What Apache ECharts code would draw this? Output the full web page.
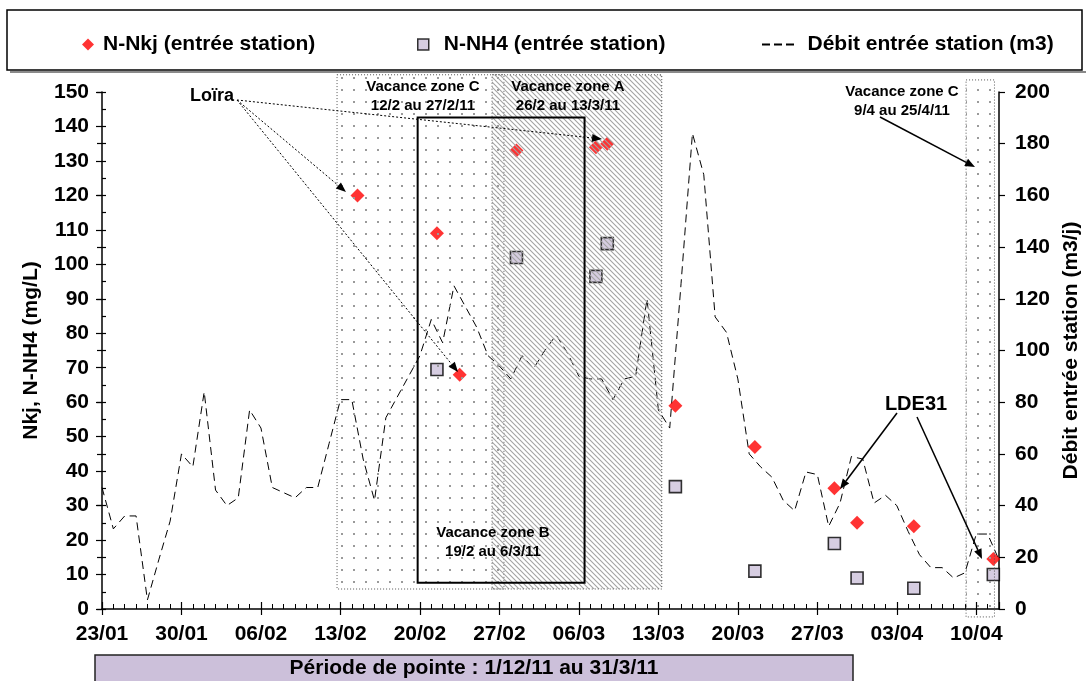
<!DOCTYPE html>
<html><head><meta charset="utf-8">
<script src="https://cdn.jsdelivr.net/npm/echarts@6/dist/echarts.min.js"></script>
<style>html,body{margin:0;padding:0;background:#fff}#c{width:1086px;height:681px}</style>
</head><body><div id="c"></div>
<script>
// ---------- DATA ----------
const startDate = '23/01'; // 2011
const xTickLabels = ['23/01','30/01','06/02','13/02','20/02','27/02','06/03','13/03','20/03','27/03','03/04','10/04'];
// daily inflow (m3/j), one value per day starting 23/01
const flowValues = [47,31,36,36,3.5,19,34,60,55,84,
  46,40,43,77,70,47,45,43,47,47,
  64,81,81,58,42,74,82,90,98,112,
  103,125,117,109,98,94,89,98,93,100,
  106,99,90,89,89,81,89,90,120,77,
  70,126,184,168,113,107,89,60,55,51,
  42,38,53,52,32,41,59,58,41,44,
  40,30,21,16,16,12,14,29,29,19];
const nkjDates  = ['14/02','21/02','23/02','28/02','07/03','08/03','14/03','21/03','28/03','30/03','04/04','11/04'];
const nkjValues = [120,109,68,133,134,135,59,47,35,25,24,14.5];
const nh4Dates  = ['21/02','28/02','07/03','08/03','14/03','21/03','28/03','30/03','04/04','11/04'];
const nh4Values = [69.5,102,96.5,106,35.5,11,19,9,6,10];

// ---------- helpers ----------
function dayIndex(s){
  const [d,m] = s.split('/').map(Number);
  const [d0,m0] = startDate.split('/').map(Number);
  return Math.round((Date.UTC(2011,m-1,d)-Date.UTC(2011,m0-1,d0))/86400000);
}
const SLOT = 0.5; // samples plotted at the centre of their date slot
const FONT = '"Liberation Sans", Arial, sans-serif';
const nkjData = nkjDates.map((d,i)=>[dayIndex(d)+SLOT, nkjValues[i]]);
const nh4Data = nh4Dates.map((d,i)=>[dayIndex(d)+SLOT, nh4Values[i]]);
const flowData = flowValues.map((v,i)=>[i, v]);
const X_MAX = 79;
const FS = 21;

const chart = echarts.init(document.getElementById('c'), null, {renderer:'canvas'});
const boldLbl = {color:'#000', fontWeight:'bold', fontSize:FS, fontFamily:FONT};
const option = {
  animation:false,
  backgroundColor:'#fff',
  grid:{left:102, right:87, top:92, bottom:72, containLabel:false, outerBoundsMode:'none'},
  legend:[
    {data:['N-Nkj (entrée station)'], left:77, top:29, icon:'diamond', itemWidth:12, itemHeight:12,
     textStyle:Object.assign({}, boldLbl, {padding:[0,0,0,4]})},
    {data:['N-NH4 (entrée station)'], left:412, top:29, icon:'rect', itemWidth:11, itemHeight:11,
     itemStyle:{borderColor:'#000', borderWidth:1.5},
     textStyle:Object.assign({}, boldLbl, {padding:[0,0,0,10]})},
    {data:['Débit entrée station (m3)'], left:757, top:29, itemWidth:33, itemHeight:2,
     icon:'path://M0,0H8V2H0Z M12,0H20V2H12Z M24,0H32V2H24Z',
     textStyle:Object.assign({}, boldLbl, {padding:[0,0,0,8]})}
  ],
  xAxis:[
    {type:'value', min:0, max:X_MAX, interval:7, position:'bottom',
     axisLine:{show:true, onZero:false, lineStyle:{color:'#000', width:1.5}},
     axisTick:{show:true, inside:false, length:6, lineStyle:{color:'#000', width:1.2}},
     axisLabel:{show:true, margin:15, showMaxLabel:false, color:'#000', fontWeight:'bold', fontSize:FS, fontFamily:FONT,
       formatter:v=> (v%7===0 && v/7<xTickLabels.length) ? xTickLabels[v/7] : ''},
     splitLine:{show:false}},
    {type:'value', min:0, max:X_MAX, interval:7, position:'bottom',
     axisLine:{show:false, onZero:false}, axisTick:{show:true, inside:true, length:7, lineStyle:{color:'#000', width:1.2}},
     axisLabel:{show:false}, splitLine:{show:false}},
    {type:'value', min:0, max:X_MAX, interval:1, position:'bottom',
     axisLine:{show:false, onZero:false}, axisTick:{show:true, inside:true, length:5, lineStyle:{color:'#000', width:1}},
     axisLabel:{show:false}, splitLine:{show:false}}
  ],
  yAxis:[
    {type:'value', min:0, max:150, interval:10, position:'left',
     name:'Nkj, N-NH4 (mg/L)', nameLocation:'middle', nameRotate:90, nameGap:60,
     nameTextStyle:{color:'#000', fontWeight:'bold', fontSize:FS, fontFamily:FONT},
     axisLine:{show:true, onZero:false, lineStyle:{color:'#000', width:1.5}},
     axisTick:{show:true, inside:false, length:6, lineStyle:{color:'#000', width:1.2}},
     axisLabel:{margin:13, color:'#000', fontWeight:'bold', fontSize:FS, fontFamily:FONT},
     splitLine:{show:false}},
    {type:'value', min:0, max:200, interval:20, position:'right',
     name:'Débit entrée station (m3/j)', nameLocation:'middle', nameRotate:90, nameGap:62,
     nameTextStyle:{color:'#000', fontWeight:'bold', fontSize:FS, fontFamily:FONT},
     axisLine:{show:true, onZero:false, lineStyle:{color:'#000', width:1.5}},
     axisTick:{show:true, inside:false, length:6, lineStyle:{color:'#000', width:1.2}},
     axisLabel:{margin:16, color:'#000', fontWeight:'bold', fontSize:FS, fontFamily:FONT},
     splitLine:{show:false}},
    {type:'value', min:0, max:150, interval:5, position:'left',
     axisLine:{show:false}, axisTick:{show:true, inside:true, length:4, lineStyle:{color:'#000', width:1.2}},
     axisLabel:{show:false}, splitLine:{show:false}},
    {type:'value', min:0, max:200, interval:20, position:'right',
     axisLine:{show:false}, axisTick:{show:true, inside:true, length:5, lineStyle:{color:'#000', width:1.2}},
     axisLabel:{show:false}, splitLine:{show:false}}
  ],
  series:[
    {name:'N-Nkj (entrée station)', type:'scatter', xAxisIndex:0, yAxisIndex:0, data:nkjData,
     symbol:'diamond', symbolSize:14, itemStyle:{color:'#ff0000'}, z:5},
    {name:'N-NH4 (entrée station)', type:'scatter', xAxisIndex:0, yAxisIndex:0, data:nh4Data,
     symbol:'rect', symbolSize:12, itemStyle:{color:'#ccc0da', borderColor:'#000', borderWidth:1.6}, z:5},
    {name:'Débit entrée station (m3)', type:'line', xAxisIndex:0, yAxisIndex:1, data:flowData,
     symbol:'none', showSymbol:false, clip:false,
     lineStyle:{color:'#000', width:1, type:[8,5]}, itemStyle:{color:'#000'}, z:3}
  ]
};
chart.setOption(option);

// ---------- annotations ----------
function mkCanvas(w,h,draw){ const c=document.createElement('canvas'); c.width=w; c.height=h; draw(c.getContext('2d')); return c; }
const dotPattern = mkCanvas(12,12,g=>{ g.fillStyle='#9a9a9a'; g.fillRect(5,5,2,2); });
const hatchPattern = mkCanvas(5,5,g=>{ g.strokeStyle='#a3a3a3'; g.lineWidth=1.1;
  for(const o of [-5,0,5]){ g.beginPath(); g.moveTo(o-1,-1); g.lineTo(o+6,6); g.stroke(); } });
function P(day,val){ return chart.convertToPixel({xAxisIndex:0,yAxisIndex:0},[day,val]); }
function zoneRect(d1,d2,v1,v2,fill,stroke,lw,dash,z){
  const a=P(d1,v1), b=P(d2,v2);
  return {type:'rect', z:z, shape:{x:a[0], y:a[1], width:b[0]-a[0], height:b[1]-a[1]},
          style:{fill:fill, stroke:stroke, lineWidth:lw, lineDash:dash}};
}
function arrow(x1,y1,x2,y2,o){
  o=o||{}; const ang=Math.atan2(y2-y1,x2-x1), L=o.head||10, W=o.hw||4;
  const bx=x2-L*Math.cos(ang), by=y2-L*Math.sin(ang), px=-Math.sin(ang)*W, py=Math.cos(ang)*W;
  return [
    {type:'line', z:30, shape:{x1:x1,y1:y1,x2:bx,y2:by}, style:{stroke:'#000', lineWidth:o.lw||1, lineDash:o.dash||null}},
    {type:'polygon', z:30, shape:{points:[[x2,y2],[bx+px,by+py],[bx-px,by-py]]}, style:{fill:'#000'}}
  ];
}
function txt(t,x,y,size,extra){
  return Object.assign({type:'text', z:40, style:{text:t, x:x, y:y, fill:'#000',
    font:'bold '+size+'px '+FONT, align:'center', verticalAlign:'middle', textAlign:'center', textVerticalAlign:'middle'}}, extra||{});
}
const g = [];
// legend frame
g.push({type:'rect', z:1, shape:{x:10, y:71, width:1076, height:2}, style:{fill:'#8a8a8a'}});
g.push({type:'rect', z:2, shape:{x:7, y:10, width:1075, height:60}, style:{fill:'none', stroke:'#000', lineWidth:1.5}});
// zones (values in days from 23/01 and left-axis units)
g.push(zoneRect(20.7,35.4,155,5.8,{image:dotPattern,repeat:'repeat'},'#555',1,[1,2],10));
g.push(zoneRect(34.35,49.3,155,5.8,{image:hatchPattern,repeat:'repeat'},'#555',1,[1,2],11));
g.push(zoneRect(27.8,42.5,142.6,7.6,'none','#000',2,null,12));
g.push(zoneRect(76.1,78.6,153.5,-2.3,{image:dotPattern,repeat:'repeat'},'#555',1,[1,2],10));
// zone texts
g.push(txt('Vacance zone C',423,87,15)); g.push(txt('12/2 au 27/2/11',423,106,15));
g.push(txt('Vacance zone A',568,87,15)); g.push(txt('26/2 au 13/3/11',568,106,15));
g.push(txt('Vacance zone B',493,533,15)); g.push(txt('19/2 au 6/3/11',493,552,15));
g.push(txt('Vacance zone C',902,92,15)); g.push(txt('9/4 au 25/4/11',902,111,15));
g.push(...arrow(880,117,975,167,{lw:1.5}));
// Loïra
g.push(txt('Loïra',212,96,18));
g.push(...arrow(237,100,346,192,{dash:[2,2]}));
g.push(...arrow(237,100,458,372,{dash:[2,2]}));
g.push(...arrow(237,100,602,139,{dash:[2,2]}));
// LDE31
g.push(txt('LDE31',916,404,20));
g.push(...arrow(897,413,840,489,{lw:1.5}));
g.push(...arrow(917,417,982,559,{lw:1.5}));
// peak period box
g.push({type:'rect', z:20, shape:{x:95, y:655, width:758, height:40}, style:{fill:'#ccc0da', stroke:'#222', lineWidth:1.5}});
g.push(txt('Période de pointe : 1/12/11 au 31/3/11',474,668,FS));
chart.setOption({graphic:{elements:g}});
</script></body></html>
